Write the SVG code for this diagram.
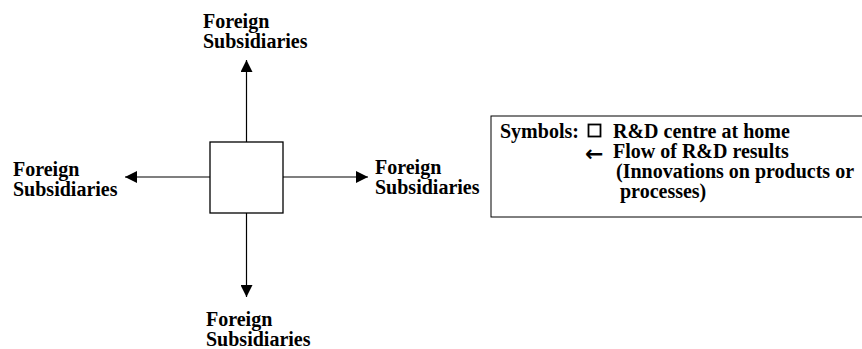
<svg xmlns="http://www.w3.org/2000/svg" width="862" height="349" viewBox="0 0 862 349">
<style>
  .lbl { font-family: "Liberation Serif", "Times New Roman", serif; font-size: 20px; font-weight: bold; fill: #000; }
  .sym { font-family: "DejaVu Sans", sans-serif; font-size: 22px; font-weight: bold; fill: #000; }
  .conn { stroke: #000; stroke-width: 1.2; fill: none; marker-end: url(#ah); }
  .box { fill: #fff; stroke: #000; stroke-width: 1.3; }
</style>
<defs>
  <marker id="ah" markerUnits="userSpaceOnUse" markerWidth="12" markerHeight="12" viewBox="0 0 10 10" refX="10" refY="5" orient="auto">
    <path d="M0,0 L10,5 L0,10 z" fill="#000"/>
  </marker>
</defs>
<rect width="862" height="349" fill="#fff"/>
<g id="connectors">
  <line class="conn" x1="246.5" y1="142" x2="246.5" y2="60"/>
  <line class="conn" x1="246.5" y1="213" x2="246.5" y2="297"/>
  <line class="conn" x1="210" y1="177" x2="125" y2="177"/>
  <line class="conn" x1="283" y1="177" x2="368" y2="177"/>
</g>
<g id="rd-centre">
  <rect class="box" x="210" y="142" width="73" height="71"/>
</g>
<g id="fs-top">
  <text class="lbl" x="203" y="28">Foreign</text>
  <text class="lbl" x="203" y="48">Subsidiaries</text>
</g>
<g id="fs-left">
  <text class="lbl" x="13" y="176">Foreign</text>
  <text class="lbl" x="13" y="196">Subsidiaries</text>
</g>
<g id="fs-right">
  <text class="lbl" x="375" y="174">Foreign</text>
  <text class="lbl" x="375" y="194">Subsidiaries</text>
</g>
<g id="fs-bottom">
  <text class="lbl" x="206" y="326">Foreign</text>
  <text class="lbl" x="206" y="346">Subsidiaries</text>
</g>
<g id="legend">
  <rect x="491" y="116" width="372" height="101" fill="none" stroke="#000" stroke-width="1"/>
  <text class="lbl" x="500" y="138">Symbols:</text>
  <rect x="588.5" y="124.5" width="12" height="12" fill="none" stroke="#000" stroke-width="1.8"/>
  <text class="lbl" x="613" y="138">R&amp;D centre at home</text>
  <text class="sym" x="585" y="161">←</text>
  <text class="lbl" x="613" y="158">Flow of R&amp;D results</text>
  <text class="lbl" x="616" y="178">(Innovations on products or</text>
  <text class="lbl" x="620" y="198">processes)</text>
</g>
</svg>
